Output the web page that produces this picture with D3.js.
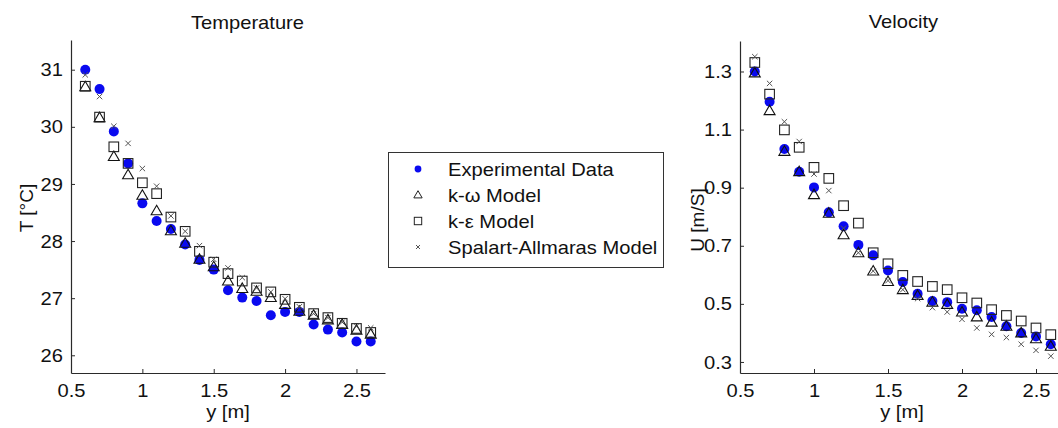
<!DOCTYPE html>
<html><head><meta charset="utf-8">
<script src="https://cdn.jsdelivr.net/npm/d3@7"></script>
<style>
html,body{margin:0;padding:0;background:#fff;}
svg{display:block;font-family:"Liberation Sans",Arial,sans-serif;}
</style></head>
<body>
<svg id="chart" width="1058" height="428"></svg>
<script>
const yPos = [0.6,0.7,0.8,0.9,1.0,1.1,1.2,1.3,1.4,1.5,1.6,1.7,1.8,1.9,2.0,2.1,2.2,2.3,2.4,2.5,2.6];

const tempExp = [31.0,30.66,29.92,29.36,28.66,28.35,28.21,27.94,27.67,27.50,27.14,27.01,26.95,26.70,26.76,26.76,26.54,26.45,26.40,26.24,26.24];
const tempKW  = [30.70,30.16,29.48,29.16,28.80,28.53,28.18,27.96,27.68,27.55,27.30,27.17,27.12,27.01,26.89,26.77,26.70,26.62,26.54,26.44,26.37];
const tempKE  = [30.71,30.17,29.65,29.36,29.02,28.83,28.42,28.17,27.82,27.63,27.43,27.30,27.18,27.11,26.98,26.84,26.73,26.66,26.56,26.47,26.40];
const tempSA  = [30.91,30.53,30.01,29.71,29.27,28.96,28.44,28.17,27.92,27.68,27.53,27.36,27.18,27.11,26.99,26.85,26.73,26.66,26.58,26.51,26.48];

const velExp = [1.300,1.196,1.033,0.955,0.901,0.815,0.767,0.703,0.667,0.615,0.575,0.535,0.510,0.506,0.483,0.478,0.455,0.423,0.400,0.388,0.361];
const velKW  = [1.295,1.165,1.025,0.955,0.876,0.812,0.738,0.676,0.613,0.577,0.549,0.529,0.506,0.498,0.472,0.455,0.437,0.423,0.400,0.380,0.354];
const velKE  = [1.331,1.222,1.099,1.039,0.970,0.932,0.838,0.778,0.676,0.638,0.598,0.577,0.560,0.549,0.521,0.503,0.480,0.460,0.441,0.417,0.394];
const velSA  = [1.351,1.259,1.127,1.059,0.947,0.890,0.760,0.676,0.613,0.580,0.549,0.518,0.487,0.472,0.447,0.417,0.395,0.384,0.361,0.340,0.320];

const xTicks = [0.5,1,1.5,2,2.5];
const tempTicks = [26,27,28,29,30,31];
const velTicks = [0.3,0.5,0.7,0.9,1.1,1.3];
const seriesNames = ["Experimental Data","k-\u03C9 Model","k-\u03B5 Model","Spalart-Allmaras Model"];

const svg = d3.select("#chart");
const FONT = 19, STRETCH = 1.06;
const BLUE = "#0a0af0";

function stretch(sel){
  sel.each(function(){
    const w = this.getComputedTextLength();
    if (w > 0) d3.select(this).attr("textLength", w*STRETCH).attr("lengthAdjust","spacingAndGlyphs");
  });
}

function panel(cfg){
  const x = d3.scaleLinear().domain([0.5,2.7]).range([cfg.left, cfg.right]);
  const y = d3.scaleLinear().domain(cfg.ydom).range([cfg.bottom, cfg.top]);
  const g = svg.append("g");

  const xa = g.append("g").attr("transform",`translate(0,${cfg.bottom})`)
    .call(d3.axisBottom(x).tickValues(xTicks).tickSizeInner(-4).tickSizeOuter(0).tickFormat(d3.format("")));
  const ya = g.append("g").attr("transform",`translate(${cfg.left},0)`)
    .call(d3.axisLeft(y).tickValues(cfg.yticks).tickSizeInner(-4).tickSizeOuter(0).tickPadding(8).tickFormat(cfg.fmt));
  [xa, ya].forEach(a=>{
    a.select(".domain").attr("stroke","#2a2a2a").attr("stroke-width",1.2);
    a.selectAll(".tick line").attr("stroke","#2a2a2a");
    a.selectAll(".tick text").attr("fill","#111").attr("font-size",FONT).attr("font-family","Liberation Sans, Arial, sans-serif");
  });
  xa.selectAll(".tick text").attr("dy",null).attr("y",24);
  stretch(xa.selectAll(".tick text"));
  stretch(ya.selectAll(".tick text"));

  g.append("text").attr("x",cfg.titleX).attr("y",cfg.titleY).attr("text-anchor","middle")
    .attr("font-size",FONT).attr("fill","#111").text(cfg.title).call(stretch);
  g.append("text").attr("x",cfg.xlabX).attr("y",418).attr("text-anchor","middle")
    .attr("font-size",FONT).attr("fill","#111").text("y [m]").call(stretch);
  g.append("text").attr("transform",`translate(${cfg.ylabX},${cfg.ylabY}) rotate(-90)`).attr("text-anchor","middle")
    .attr("font-size",FONT).attr("fill","#111").text(cfg.ylabel);

  const data = (arr)=>yPos.map((p,i)=>({x:p,v:arr[i]}));
  g.selectAll(".dot").data(data(cfg.exp)).join("circle")
    .attr("cx",d=>x(d.x)).attr("cy",d=>y(d.v)).attr("r",5).attr("fill",BLUE);
  const tri = d3.symbol().type(d3.symbolTriangle).size(52);
  g.selectAll(".tri").data(data(cfg.kw)).join("path")
    .attr("d",tri).attr("transform",d=>`translate(${x(d.x)},${y(d.v)+0.8})`)
    .attr("fill","none").attr("stroke","#111").attr("stroke-width",1.1);
  g.selectAll(".sq").data(data(cfg.ke)).join("rect")
    .attr("x",d=>x(d.x)-4.8).attr("y",d=>y(d.v)-4.8).attr("width",9.6).attr("height",9.6)
    .attr("fill","none").attr("stroke","#222").attr("stroke-width",1.1);
  g.selectAll(".cx").data(data(cfg.sa)).join("path")
    .attr("d",d=>{const cx=x(d.x), cy=y(d.v), s=2.7; return `M${cx-s},${cy-s}L${cx+s},${cy+s}M${cx-s},${cy+s}L${cx+s},${cy-s}`;})
    .attr("stroke","#555").attr("stroke-width",1);
}

panel({left:71,right:385,top:40,bottom:373,ydom:[25.69,31.52],yticks:tempTicks,fmt:d3.format("d"),
  title:"Temperature",titleX:247.5,titleY:29,xlabX:228,ylabel:"T [\u00B0C]",ylabX:33,ylabY:208,
  exp:tempExp,kw:tempKW,ke:tempKE,sa:tempSA});
panel({left:740,right:1065.6,top:41,bottom:373,ydom:[0.262,1.405],yticks:velTicks,fmt:d3.format(".1f"),
  title:"Velocity",titleX:903.5,titleY:28,xlabX:902,ylabel:"U [m/S]",ylabX:704,ylabY:220,
  exp:velExp,kw:velKW,ke:velKE,sa:velSA});

const lg = svg.append("g");
lg.append("rect").attr("x",388.5).attr("y",152.5).attr("width",275).attr("height",115)
  .attr("fill","#fff").attr("stroke","#333").attr("stroke-width",1);
const rowsY = [169,195,221,247];
const mx = 418;
lg.append("circle").attr("cx",mx).attr("cy",rowsY[0]).attr("r",3.4).attr("fill",BLUE);
lg.append("path").attr("d",d3.symbol().type(d3.symbolTriangle).size(30)).attr("transform",`translate(${mx},${rowsY[1]+0.5})`)
  .attr("fill","none").attr("stroke","#222");
lg.append("rect").attr("x",mx-3.7).attr("y",rowsY[2]-3.7).attr("width",7.4).attr("height",7.4).attr("fill","none").attr("stroke","#222");
lg.append("path").attr("d",`M${mx-2},${rowsY[3]-2}L${mx+2},${rowsY[3]+2}M${mx-2},${rowsY[3]+2}L${mx+2},${rowsY[3]-2}`).attr("stroke","#555");
seriesNames.forEach((n,i)=>{
  lg.append("text").attr("x",448).attr("y",rowsY[i]).attr("dy","0.36em").attr("font-size",FONT).attr("fill","#111")
    .text(n).call(stretch);
});
</script>
</body></html>
